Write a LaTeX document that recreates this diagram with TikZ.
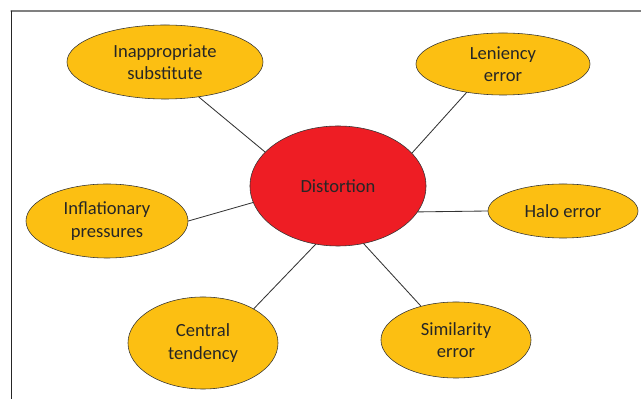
\documentclass[tikz,border=0pt]{standalone}
\usepackage{fontspec}
\setmainfont{Carlito}
\usetikzlibrary{shapes.geometric}
\definecolor{leafyellow}{HTML}{FCBF12}
\definecolor{corered}{HTML}{EE1D24}
\begin{document}
\begin{tikzpicture}[x=0.025cm, y=-0.025cm, line cap=round, line join=round]
  \tikzset{
    leaf/.style={ellipse, draw=black!80, fill=leafyellow, inner sep=0pt, align=center,
      font=\fontsize{13.2}{16}\selectfont, text=black!85},
    core/.style={leaf, fill=corered},
    spoke/.style={draw=black!80, semithick}
  }
  \useasboundingbox (0,0) rectangle (641,399);
  %--- Frame
    \draw[gray, thick] (11,11) -- (641,11);
    \draw[black!85, semithick] (11,11) -- (11,399);
  %--- Centre
    \node[core, minimum width=4.4cm, minimum height=3cm] (dist) at (338,186) {Distortion};
  %--- Outer ellipses
    \node[leaf, minimum width=4.9cm, minimum height=1.85cm] (subst) at (165,62) {Inappropriate\\ substitute};
    \node[leaf, minimum width=4.35cm, minimum height=1.55cm] (lenien) at (503,64) {Leniency\\ error};
    \node[leaf, minimum width=3.75cm, minimum height=1.35cm] (halo) at (563,211) {Halo error};
    \node[leaf, minimum width=4.05cm, minimum height=1.85cm] (inflat) at (107,221) {Inflationary\\ pressures};
    \node[leaf, minimum width=3.75cm, minimum height=2.3cm] (central) at (203,343) {Central\\ tendency};
    \node[leaf, minimum width=3.75cm, minimum height=1.9cm] (simil) at (456,340) {Similarity\\ error};
  % Spokes
    \draw[spoke] (dist.155) -- (subst.314);
    \draw[spoke] (dist.24) -- (lenien.218);
    \draw[spoke] (dist.342.6) -- (halo.west);
    \draw[spoke] (dist.191) -- (inflat.east);
    \draw[spoke] (dist.249) -- (central.34);
    \draw[spoke] (dist.294) -- (simil.136);
\end{tikzpicture}
\end{document}
